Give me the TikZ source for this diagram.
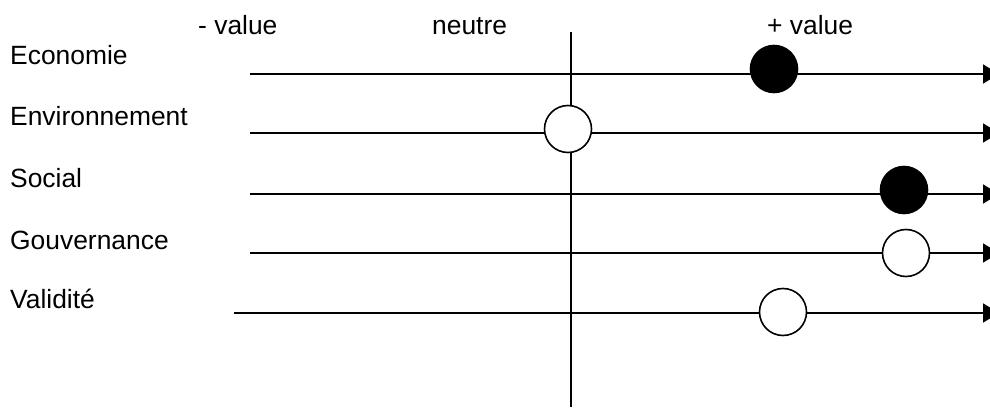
\documentclass[tikz,border=0pt]{standalone}
\usepackage{fontspec}
\setmainfont{Liberation Sans}
\usetikzlibrary{arrows.meta}
\begin{document}
\begin{tikzpicture}[x=1pt,y=-1pt,>={Triangle[length=16pt 0 0,width=19pt 0]},
  axe/.style={line width=1.6pt,->},
  txt/.style={anchor=base west,inner sep=0pt,font=\fontsize{26.4}{30}\selectfont},
  rond/.style={circle,draw,line width=1.6pt,minimum size=47pt,inner sep=0pt,fill=white},
  plein/.style={rond,fill=black}]
  \clip (0,0) rectangle (990,409);
  % en-tete
  \node[txt] (moins) at (198,35) {- value};
  \node[txt] (neutre) at (432,35) {neutre};
  \node[txt] (plus) at (767,35) {+ value};
  % criteres
  \node[txt] (eco) at (10,65) {Economie};
  \node[txt] (env) at (10,126) {Environnement};
  \node[txt] (soc) at (10,187) {Social};
  \node[txt] (gouv) at (10,249) {Gouvernance};
  \node[txt] (val) at (10,308) {Validité};
  % axes
  \coordinate (eco0) at (250,74);  \coordinate (eco1) at (999,74);
  \coordinate (env0) at (250,133); \coordinate (env1) at (999,133);
  \coordinate (soc0) at (250,194); \coordinate (soc1) at (999,194);
  \coordinate (gouv0) at (250,253); \coordinate (gouv1) at (999,253);
  \coordinate (val0) at (234,313); \coordinate (val1) at (999,313);
  \draw[axe] (eco0)--(eco1); \draw[axe] (env0)--(env1);
  \draw[axe] (soc0)--(soc1); \draw[axe] (gouv0)--(gouv1);
  \draw[axe] (val0)--(val1);
  \coordinate (haut) at (571,32); \coordinate (bas) at (571,407);
  \draw[line width=1.6pt] (haut)--(bas);
  % positions
  \node[plein] (peco) at (774,69) {};
  \node[rond] (penv) at (568,129) {};
  \node[plein] (psoc) at (904,190) {};
  \node[rond] (pgouv) at (906,253) {};
  \node[rond] (pval) at (783,312) {};
\end{tikzpicture}
\end{document}
